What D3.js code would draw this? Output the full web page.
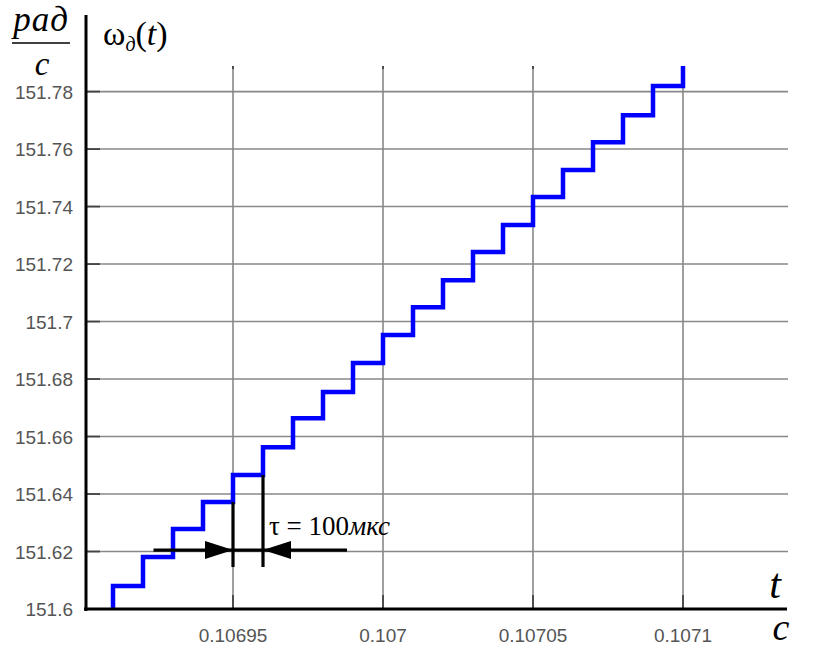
<!DOCTYPE html>
<html>
<head>
<meta charset="utf-8">
<script src="https://cdn.jsdelivr.net/npm/d3@7/dist/d3.min.js"></script>
<style>
  html, body { margin: 0; padding: 0; background: #fff; }
  svg { display: block; }
</style>
</head>
<body>
<svg id="chart" width="822" height="648"></svg>
<script>
// Axis ticks
const timeTicks = [0.10695, 0.107, 0.10705, 0.1071];
const timeTickLabels = ["0.10695", "0.107", "0.10705", "0.1071"];
const speedTicks = [151.6, 151.62, 151.64, 151.66, 151.68, 151.7, 151.72, 151.74, 151.76, 151.78];
const speedTickLabels = ["151.6", "151.62", "151.64", "151.66", "151.68", "151.7", "151.72", "151.74", "151.76", "151.78"];

// Sampling instants (s) at which the speed value changes
const stepTimes = [0.10691, 0.10692, 0.10693, 0.10694, 0.10695, 0.10696, 0.10697, 0.10698, 0.10699, 0.107,
                   0.10701, 0.10702, 0.10703, 0.10704, 0.10705, 0.10706, 0.10707, 0.10708, 0.10709, 0.1071];
// Held speed levels (rad/s): the level before the first change, then each level after a change
const stepLevels = [151.598, 151.6080, 151.6181, 151.6278, 151.6372, 151.6466, 151.6563, 151.6664, 151.6755,
                    151.6856, 151.6953, 151.7050, 151.7144, 151.7242, 151.7336, 151.7433, 151.7527,
                    151.7624, 151.7718, 151.7819, 151.7916];

// Sampling-period annotation
const periodMarks = [0.10695, 0.10696];      // instants marked by the vertical bars
const periodMarkBottom = 151.6146;           // lower end of both bars
const arrowLevel = 151.6205;                 // height of the horizontal arrow line
const arrowSpan = [0.1069235, 0.106988];     // extent of the arrow line

const svg = d3.select("#chart");
const plot = { left: 86, right: 788, top: 66, bottom: 609 };

const x = d3.scaleLinear().domain([0.106901, 0.107135]).range([plot.left, plot.right]);
const y = d3.scaleLinear().domain([151.6, 151.7889]).range([plot.bottom, plot.top]);

svg.append("defs").append("clipPath").attr("id", "plot-clip")
  .append("rect")
  .attr("x", plot.left).attr("y", plot.top)
  .attr("width", plot.right - plot.left).attr("height", plot.bottom - plot.top);

// Grid
const grid = svg.append("g");
grid.selectAll("line.h").data(speedTicks.slice(1)).join("line")
  .attr("x1", plot.left).attr("x2", plot.right)
  .attr("y1", d => y(d)).attr("y2", d => y(d))
  .attr("stroke", "#888").attr("stroke-width", 1.6);
grid.selectAll("line.v").data(timeTicks).join("line")
  .attr("x1", d => x(d)).attr("x2", d => x(d))
  .attr("y1", plot.top).attr("y2", plot.bottom)
  .attr("stroke", "#888").attr("stroke-width", 1.6);

// Inner tick marks
const tickLen = 14;
grid.selectAll("line.yt").data(speedTicks.slice(1)).join("line")
  .attr("x1", plot.left).attr("x2", plot.left + tickLen)
  .attr("y1", d => y(d)).attr("y2", d => y(d))
  .attr("stroke", "#444").attr("stroke-width", 1.8);
grid.selectAll("line.xt").data(timeTicks).join("line")
  .attr("x1", d => x(d)).attr("x2", d => x(d))
  .attr("y1", plot.bottom).attr("y2", plot.bottom - tickLen)
  .attr("stroke", "#444").attr("stroke-width", 1.8);
grid.selectAll("line.xt2").data(timeTicks).join("line")
  .attr("x1", d => x(d)).attr("x2", d => x(d))
  .attr("y1", plot.top).attr("y2", plot.top + 3)
  .attr("stroke", "#444").attr("stroke-width", 1.8);

// Tick labels
const labelFont = "'Liberation Sans', Arial, sans-serif";
svg.append("g").selectAll("text").data(speedTicks).join("text")
  .attr("x", 73).attr("y", d => y(d) + 7)
  .attr("text-anchor", "end")
  .attr("font-family", labelFont).attr("font-size", 19)
  .attr("fill", "#555")
  .text((d, i) => speedTickLabels[i]);
svg.append("g").selectAll("text").data(timeTicks).join("text")
  .attr("x", d => x(d)).attr("y", 642)
  .attr("text-anchor", "middle")
  .attr("font-family", labelFont).attr("font-size", 19)
  .attr("fill", "#555")
  .text((d, i) => timeTickLabels[i]);

// Staircase speed curve
const pts = stepLevels.map((v, i) => [stepTimes[Math.max(i - 1, 0)], v]);
const stair = d3.line().x(d => x(d[0])).y(d => y(d[1])).curve(d3.curveStepAfter);
svg.append("path")
  .attr("clip-path", "url(#plot-clip)")
  .attr("d", stair(pts))
  .attr("fill", "none")
  .attr("stroke", "#0000ff")
  .attr("stroke-width", 4.5)
  .attr("stroke-linejoin", "miter");

// Axes lines
svg.append("line")
  .attr("x1", plot.left).attr("x2", plot.left)
  .attr("y1", 15).attr("y2", plot.bottom + 2)
  .attr("stroke", "#000").attr("stroke-width", 3);
svg.append("line")
  .attr("x1", plot.left - 2).attr("x2", 787)
  .attr("y1", plot.bottom).attr("y2", plot.bottom)
  .attr("stroke", "#000").attr("stroke-width", 3);

// Sampling period annotation
const ann = svg.append("g");
periodMarks.forEach(t => {
  const idx = stepTimes.indexOf(t);
  const before = stepLevels[idx];  // level held just before this instant
  ann.append("line")
    .attr("x1", x(t)).attr("x2", x(t))
    .attr("y1", y(before)).attr("y2", y(periodMarkBottom))
    .attr("stroke", "#000").attr("stroke-width", 3.2);
});
ann.append("line")
  .attr("x1", x(arrowSpan[0])).attr("x2", x(arrowSpan[1]))
  .attr("y1", y(arrowLevel)).attr("y2", y(arrowLevel))
  .attr("stroke", "#000").attr("stroke-width", 3.2);
const headLen = 28, headHalf = 9;
const ay = y(arrowLevel);
const tipL = x(periodMarks[0]), tipR = x(periodMarks[1]);
ann.append("path")
  .attr("d", `M${tipL},${ay} L${tipL - headLen},${ay - headHalf} L${tipL - headLen},${ay + headHalf} Z`)
  .attr("fill", "#000");
ann.append("path")
  .attr("d", `M${tipR},${ay} L${tipR + headLen},${ay - headHalf} L${tipR + headLen},${ay + headHalf} Z`)
  .attr("fill", "#000");

const serif = "'Liberation Serif', 'Times New Roman', serif";
const tau = ann.append("text")
  .attr("x", 269).attr("y", 535)
  .attr("font-family", serif).attr("font-size", 27);
tau.append("tspan").text("τ = 100");
tau.append("tspan").attr("font-style", "italic").text("мкс");

// Units of the vertical axis: rad/s
svg.append("text")
  .attr("x", 41).attr("y", 31).attr("text-anchor", "middle")
  .attr("font-family", serif).attr("font-style", "italic").attr("font-size", 35)
  .attr("letter-spacing", 1)
  .text("рад");
svg.append("line")
  .attr("x1", 12).attr("x2", 70).attr("y1", 43).attr("y2", 43)
  .attr("stroke", "#000").attr("stroke-width", 1.6);
svg.append("text")
  .attr("x", 42).attr("y", 75).attr("text-anchor", "middle")
  .attr("font-family", serif).attr("font-style", "italic").attr("font-size", 33)
  .text("с");

// Curve name
const title = svg.append("text")
  .attr("x", 103).attr("y", 45)
  .attr("font-family", serif).attr("font-size", 34);
title.append("tspan").text("ω");
title.append("tspan").attr("font-style", "italic").attr("font-size", 20).attr("dy", 6).text("д");
title.append("tspan").attr("dy", -6).text("(");
title.append("tspan").attr("font-style", "italic").text("t");
title.append("tspan").text(")");

// Horizontal axis name and units
svg.append("text")
  .attr("x", 775).attr("y", 598).attr("text-anchor", "middle")
  .attr("font-family", serif).attr("font-style", "italic").attr("font-size", 42)
  .text("t");
svg.append("text")
  .attr("x", 781).attr("y", 640).attr("text-anchor", "middle")
  .attr("font-family", serif).attr("font-style", "italic").attr("font-size", 38)
  .text("c");
</script>
</body>
</html>
